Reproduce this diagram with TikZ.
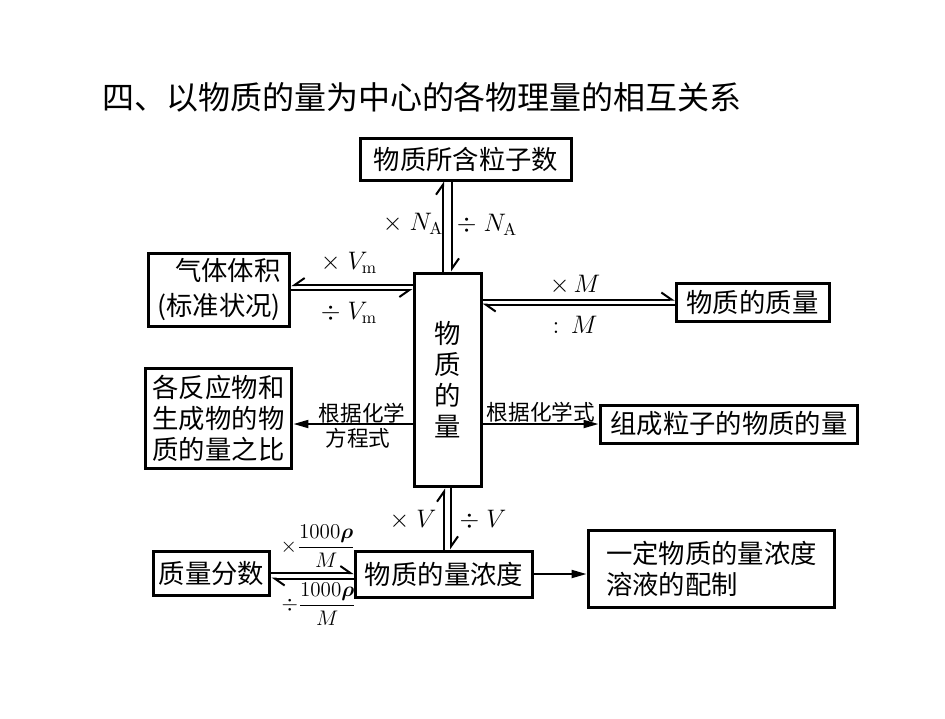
\documentclass[tikz,border=0pt]{standalone}
\usepackage{fontspec}
\usepackage{amsmath,bm}
\newfontfamily\cjk{Noto Sans CJK SC}
\usetikzlibrary{arrows.meta}
\tikzset{
    box/.style={
        rectangle, draw, line width=0.06cm, inner sep=0pt,
        font=\cjk\fontsize{15}{17.6}\selectfont, align=center
    },
    mathlabel/.style={
        font=\fontsize{14}{16}\selectfont, inner sep=1pt
    },
    cnlabel/.style={
        font=\cjk\fontsize{12.3}{14}\selectfont, inner sep=1pt
    },
    fraclabel/.style={
        font=\fontsize{12}{14}\selectfont, inner sep=0pt
    },
    hl/.style={
        line width=0.04cm, -{Straight Barb[left, length=2mm, width=2.8mm]}
    },
    hr/.style={
        line width=0.04cm, -{Straight Barb[right, length=2mm, width=2.8mm]}
    },
    arr/.style={
        line width=0.04cm, -{Triangle[length=3mm, width=1.6mm]}
    }
}

\begin{document}
\begin{tikzpicture}[x=0.02cm, y=-0.02cm]

    \useasboundingbox (0,0) rectangle (945,718);

    % Title
    \node[font=\cjk\fontsize{18.2}{20}\selectfont] (title) at (422,97) {四、以物质的量为中心的各物理量的相互关系};

    % Nodes
    \node[box, minimum width=4.24cm, minimum height=0.84cm] (count) at (466,159) {物质所含粒子数};
    \node[box, minimum width=1.34cm, minimum height=4.28cm] (amount) at (447.5,380) {物\\质\\的\\量};
    \node[box, minimum width=2.84cm, minimum height=1.46cm, align=right,
          font=\cjk\fontsize{15}{19.5}\selectfont] (gas) at (219,289.5) {气体体积\\(标准状况)};
    \node[box, minimum width=3.06cm, minimum height=0.76cm] (mass) at (752.5,302) {物质的质量};
    \node[box, minimum width=2.94cm, minimum height=2.0cm, align=left] (ratio) at (218.5,418) {各反应物和\\生成物的物\\质的量之比};
    \node[box, minimum width=5.16cm, minimum height=0.76cm] (parts) at (729,424) {组成粒子的物质的量};
    \node[box, minimum width=2.34cm, minimum height=0.88cm] (fraction) at (211.5,573) {质量分数};
    \node[box, minimum width=3.56cm, minimum height=0.92cm] (conc) at (444,574) {物质的量浓度};
    \node[box, minimum width=4.94cm, minimum height=1.54cm, align=left] (prep) at (711.5,568.5) {一定物质的量浓度\\溶液的配制};

    % Edges
    \draw[hl] ([xshift=-0.09cm]amount.north) -- ([xshift=-0.09cm]amount.north |- count.south);
    \draw[hl] ([xshift=0.09cm]amount.north |- count.south) -- ([xshift=0.09cm]amount.north);
    \draw[hr] ([yshift=0.09cm]gas.east -| amount.west) -- ([yshift=0.09cm]gas.east);
    \draw[hr] ([yshift=-0.01cm]gas.east) -- ([yshift=-0.01cm]gas.east -| amount.west);
    \draw[hl] ([yshift=0.05cm]mass.west -| amount.east) -- ([yshift=0.05cm]mass.west);
    \draw[hl] ([yshift=-0.05cm]mass.west) -- ([yshift=-0.05cm]mass.west -| amount.east);
    \draw[arr] (amount.east |- parts.west) -- (parts.west);
    \draw[arr] (amount.west |- parts.west) -- (ratio.east |- parts.west);
    \draw[hl] ([xshift=-0.07cm]amount.south |- conc.north) -- ([xshift=-0.07cm]amount.south);
    \draw[hl] ([xshift=0.07cm]amount.south) -- ([xshift=0.07cm]amount.south |- conc.north);
    \draw[hl] (fraction.east) -- (fraction.east -| conc.west);
    \draw[hl] ([yshift=-0.11cm]fraction.east -| conc.west) -- ([yshift=-0.11cm]fraction.east);
    \draw[arr] (conc.east) -- (conc.east -| prep.west);

    % Labels
    \node[mathlabel] (na1) at (413,224) {$\times\;N_{\mathrm{A}}$};
    \node[mathlabel] (na2) at (487,225) {$\div\;N_{\mathrm{A}}$};
    \node[mathlabel] (vm1) at (349,263) {$\times\;V_{\mathrm{m}}$};
    \node[mathlabel] (vm2) at (349,313) {$\div\;V_{\mathrm{m}}$};
    \node[mathlabel] (m1) at (575,285) {$\times\,M$};
    \node[mathlabel] (m2) at (575,325) {$:\,M$};
    \node[cnlabel] (formula) at (541,412) {根据化学式};
    \node[cnlabel] (eq1) at (362,413) {根据化学};
    \node[cnlabel] (eq2) at (358,438) {方程式};
    \node[mathlabel] (v1) at (413,520) {$\times\;V$};
    \node[mathlabel] (v2) at (483,520) {$\div\;V$};
    \node[fraclabel] (f1) at (318,546) {$\times\dfrac{1000\bm{\rho}}{M}$};
    \node[fraclabel] (f2) at (319,604) {$\div\dfrac{1000\bm{\rho}}{M}$};

\end{tikzpicture}
\end{document}
